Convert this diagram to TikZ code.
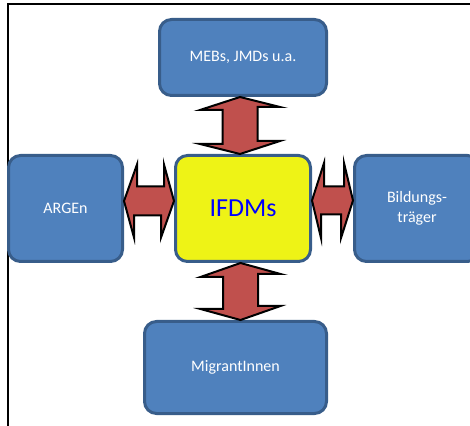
\documentclass[tikz,border=0pt]{standalone}
\usepackage{fontspec}
\setmainfont{Carlito}
\usetikzlibrary{positioning}

\definecolor{boxblue}{RGB}{79,129,189}
\definecolor{boxedge}{RGB}{56,93,138}
\definecolor{hubyellow}{RGB}{238,243,22}
\definecolor{arrowred}{RGB}{192,80,77}

\tikzset{
  partner/.style={draw=boxedge, fill=boxblue, line width=3pt, rounded corners=12pt,
    text=white, font=\fontsize{16}{20}\selectfont, align=center, inner sep=0pt},
  fatarrow/.style={draw=black, fill=arrowred, line width=2pt},
}

\begin{document}
\begin{tikzpicture}[x=1pt, y=1pt]
      \useasboundingbox (0, 0) rectangle (470, 425);
      \clip (0, 0) rectangle (470, 425);
      \draw [line width=1.5pt] (8, -20) rectangle (490, 421);

      \node [partner, minimum width=167, minimum height=76] (mebs) at (243, 367.5) {MEBs, JMDs u.a.};
      \node [partner, fill=hubyellow, text=blue, font=\fontsize{26}{30}\selectfont,
        minimum width=135, minimum height=106] (ifdm) at (243, 216.5) {IFDMs};
      \node [partner, minimum width=114, minimum height=106] (argen) at (65.5, 216.5) {ARGEn};
      \node [partner, minimum width=125, minimum height=106] (bild) at (417, 216.5) {Bildungs-\\träger};
      \node [partner, minimum width=182, minimum height=92] (migr) at (235.5, 57.5) {MigrantInnen};

      \draw [fatarrow] ([xshift=-3pt]mebs.south) -- ++(-40, -13) -- ++(22.5, 0) -- ++(0, -34) -- ++(-22.5, 0)
        -- ([xshift=-3pt]ifdm.north) -- ++(40, 13) -- ++(-22.5, 0) -- ++(0, 34) -- ++(22.5, 0) -- cycle;
      \draw [fatarrow] ([xshift=-2.5pt]ifdm.south) -- ++(-40, -14) -- ++(22.5, 0) -- ++(0, -32) -- ++(-22.5, 0)
        -- ([xshift=5pt]migr.north) -- ++(40, 14) -- ++(-22.5, 0) -- ++(0, 32) -- ++(22.5, 0) -- cycle;
      \draw [fatarrow] ([yshift=7.5pt]argen.east) -- ++(13, 36.5) -- ++(0, -22) -- ++(27, 0) -- ++(0, 22)
        -- ([yshift=7.5pt]ifdm.west) -- ++(-13, -36.5) -- ++(0, 22) -- ++(-27, 0) -- ++(0, -22) -- cycle;
      \draw [fatarrow] ([yshift=8pt]ifdm.east) -- ++(12, 37.5) -- ++(0, -23.5) -- ++(20, 0) -- ++(0, 23.5)
        -- ([yshift=8pt]bild.west) -- ++(-12, -37.5) -- ++(0, 23.5) -- ++(-20, 0) -- ++(0, -23.5) -- cycle;

   \end{tikzpicture}
\end{document}
